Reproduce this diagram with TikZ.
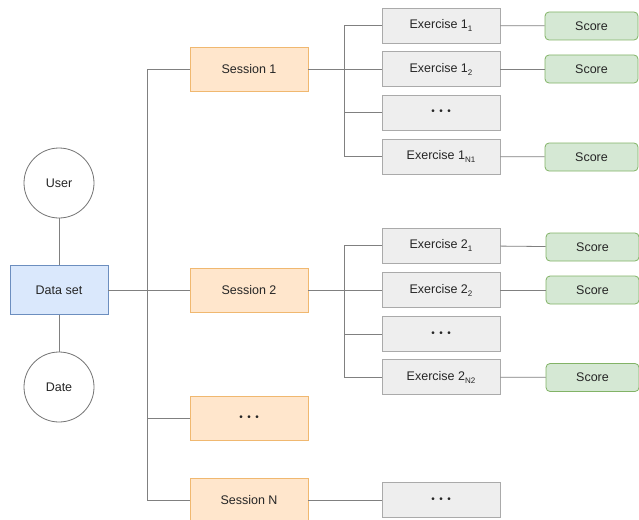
\documentclass[tikz,border=0pt]{standalone}
\usepackage{fontspec}
\setmainfont{Liberation Sans}
\definecolor{bluefill}{HTML}{DAE8FC}
\definecolor{bluedraw}{HTML}{6C8EBF}
\definecolor{orfill}{HTML}{FFE6CC}
\definecolor{ordraw}{HTML}{F0B870}
\definecolor{grfill}{HTML}{EEEEEE}
\definecolor{grdraw}{HTML}{AAAAAA}
\definecolor{gnfill}{HTML}{D5E8D4}
\definecolor{gndraw}{HTML}{82B366}
\definecolor{linec}{HTML}{808080}
\tikzset{
  base/.style={font=\fontsize{12.5}{15}\selectfont, text=black!85, line width=0.8pt, inner sep=0pt},
  dsbox/.style={base, rectangle, draw=bluedraw, fill=bluefill, minimum width=98pt, minimum height=49pt},
  circ/.style={base, circle, draw=black!55, fill=white, minimum size=70pt},
  sessbox/.style={base, rectangle, draw=ordraw, fill=orfill, minimum width=118pt, minimum height=44pt},
  exbox/.style={base, rectangle, draw=grdraw, fill=grfill, minimum width=118pt, minimum height=35pt},
  scbox/.style={base, rectangle, rounded corners=4pt, draw=gndraw, fill=gnfill, minimum width=93pt, minimum height=28pt},
  conn/.style={draw=linec, line width=0.8pt}
}
\newcommand{\dotsx}{{\fontsize{10}{12}\selectfont •\hspace{4.5pt}•\hspace{4.5pt}•}}
\newcommand{\sbx}[1]{\raisebox{-3pt}{\fontsize{8}{9}\selectfont #1}}
\begin{document}
\begin{tikzpicture}[x=1pt,y=-1pt]
\useasboundingbox (0,0) rectangle (639,519);
% left part
\node[dsbox] (ds) at (59,290) {Data set};
\node[circ] (user) at (59,183) {User};
\node[circ] (date) at (59,387) {Date};
% sessions
\node[sessbox] (s1) at (249,69) {Session 1};
\node[sessbox] (s2) at (249,290) {Session 2};
\node[sessbox] (sd) at (249,418.5) {\dotsx};
\node[sessbox] (sn) at (249,500) {Session N};
% exercises group 1
\node[exbox] (e11) at (441,25.5) {Exercise 1\sbx{1}};
\node[exbox] (e12) at (441,69) {Exercise 1\sbx{2}};
\node[exbox] (e13) at (441,112.5) {\dotsx};
\node[exbox] (e1n) at (441,156.5) {Exercise 1\sbx{N1}};
% scores group 1
\node[scbox] (c11) at (591.5,26) {Score};
\node[scbox] (c12) at (591.5,69) {Score};
\node[scbox] (c1n) at (591.5,157) {Score};
% exercises group 2
\node[exbox] (e21) at (441,245.5) {Exercise 2\sbx{1}};
\node[exbox] (e22) at (441,290) {Exercise 2\sbx{2}};
\node[exbox] (e23) at (441,334) {\dotsx};
\node[exbox] (e2n) at (441,377) {Exercise 2\sbx{N2}};
% scores group 2
\node[scbox] (c21) at (592.5,247) {Score};
\node[scbox] (c22) at (592.5,290) {Score};
\node[scbox] (c2n) at (592.5,377.5) {Score};
% session N exercise
\node[exbox] (enx) at (441,500) {\dotsx};
% connectors
\draw[conn] (user) -- (ds);
\draw[conn] (ds) -- (date);
\draw[conn] (ds.east) -- (s2.west);
\draw[conn] (s1.west) -- ++(-42,0) |- (sn.west);
\draw[conn] (sd.west) -- ++(-42,0);
\draw[conn] (s1.east) -- (e12.west);
\draw[conn] (e11.west) -- ++(-37,0) |- (e1n.west);
\draw[conn] (e13.west) -- ++(-37,0);
\draw[conn] (s2.east) -- (e22.west);
\draw[conn] (e21.west) -- ++(-37,0) |- (e2n.west);
\draw[conn] (e23.west) -- ++(-37,0);
\draw[conn] (sn.east) -- (enx.west);
\draw[conn] (e11) -- (c11);
\draw[conn] (e12) -- (c12);
\draw[conn] (e1n) -- (c1n);
\draw[conn] (e21) -- (c21);
\draw[conn] (e22) -- (c22);
\draw[conn] (e2n) -- (c2n);
\end{tikzpicture}
\end{document}
